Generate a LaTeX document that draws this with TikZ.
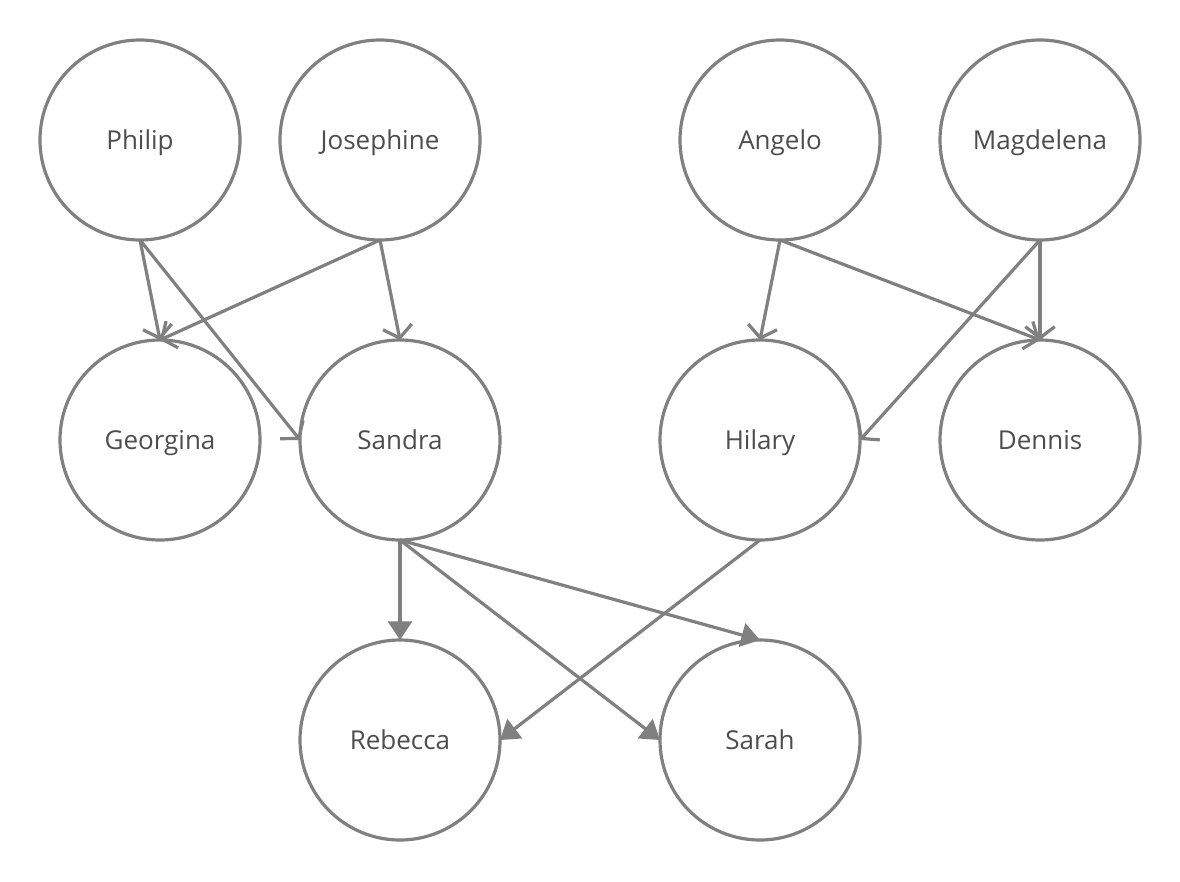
\documentclass[tikz,border=0pt]{standalone}
\usepackage{fontspec}
\setmainfont{Open Sans}
\usetikzlibrary{arrows.meta}
\definecolor{linegray}{HTML}{808080}
\definecolor{textgray}{HTML}{4D4D4D}
\tikzset{
  person/.style={circle, draw=linegray, line width=2.4pt, minimum size=150pt, inner sep=0pt, outer sep=0pt,
    text=textgray, font=\fontsize{19.5}{23}\selectfont, text height=14.5pt, text depth=0.5pt},
  openedge/.style={draw=linegray, line width=2.4pt, -{Straight Barb[length=8.5pt,width=22pt,line width=2.4pt]}},
  filledge/.style={draw=linegray, line width=2.4pt, -{Triangle[length=14pt,width=18pt]}, fill=linegray}
}
\begin{document}
\begin{tikzpicture}[x=0.75pt,y=-0.75pt]
\useasboundingbox (0,0) rectangle (1180,881);
\node[person] (philip) at (140,140) {Philip};
\node[person] (josephine) at (380,140) {Josephine};
\node[person] (angelo) at (780,140) {Angelo};
\node[person] (magdelena) at (1040,140) {Magdelena};
\node[person] (georgina) at (160,440) {Georgina};
\node[person] (sandra) at (400,440) {Sandra};
\node[person] (hilary) at (760,440) {Hilary};
\node[person] (dennis) at (1040,440) {Dennis};
\node[person] (rebecca) at (400,740) {Rebecca};
\node[person] (sarah) at (760,740) {Sarah};
\draw[openedge] (philip.south) -- (georgina.north);
\draw[openedge] (philip.south) -- (sandra.west);
\draw[openedge] (josephine.south) -- (georgina.north);
\draw[openedge] (josephine.south) -- (sandra.north);
\draw[openedge] (angelo.south) -- (hilary.north);
\draw[openedge] (angelo.south) -- (dennis.north);
\draw[openedge] (magdelena.south) -- (dennis.north);
\draw[openedge] (magdelena.south) -- (hilary.east);
\draw[filledge] (sandra.south) -- (rebecca.north);
\draw[filledge] (sandra.south) -- (sarah.west);
\draw[filledge] (sandra.south) -- (sarah.north);
\draw[filledge] (hilary.south) -- (rebecca.east);
\end{tikzpicture}
\end{document}
